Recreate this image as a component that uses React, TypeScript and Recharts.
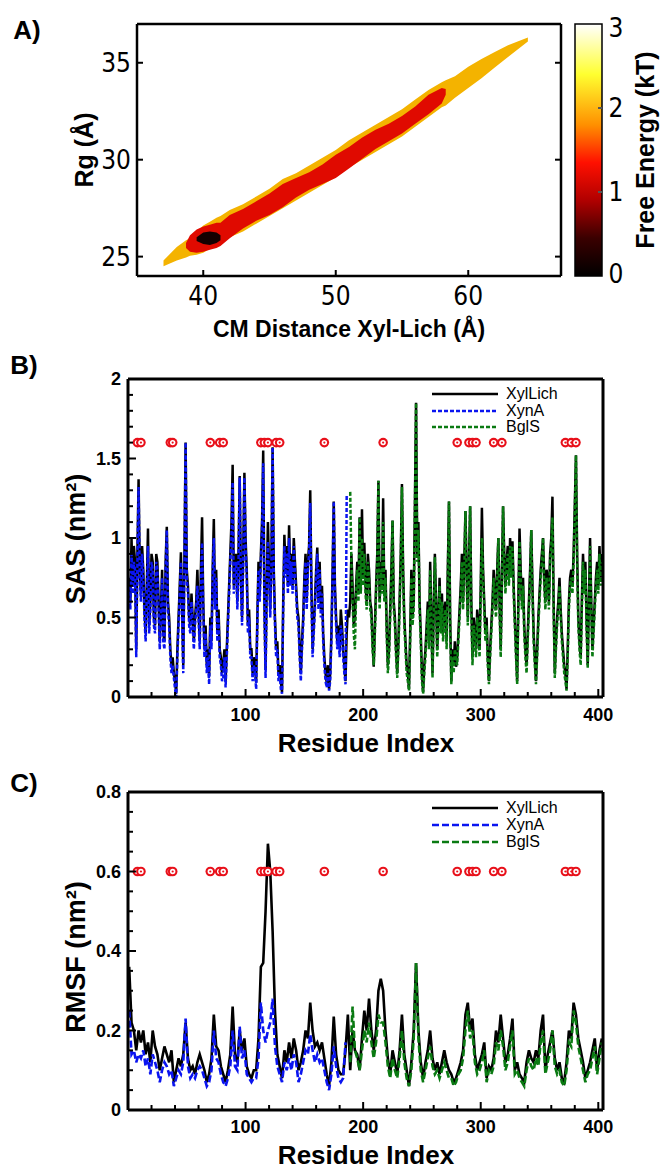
import React from 'react';
import { ComposedChart, Line, Area, Scatter, Bar, XAxis, YAxis } from 'recharts';

// ---------------- DATA ----------------
// Panel A: free-energy contour bands (x = CM distance Xyl-Lich, y = Rg range)
const fesYellowX = [37, 38, 38.7, 39, 39.5, 40, 40.5, 41, 41.3, 42, 43, 44, 45, 46, 47, 48, 49, 50, 51, 52, 53, 54, 55, 56, 57, 58, 58.3, 59, 60, 61, 62, 63, 64.5];
const fesYellowLow = [24.5, 24.8, 24.95, 25.05, 25.1, 25.2, 25.4, 25.6, 25.7, 26.0, 26.3, 26.7, 27.1, 27.5, 27.9, 28.3, 28.7, 29.1, 29.6, 30.0, 30.4, 30.8, 31.2, 31.7, 32.2, 32.7, 32.8, 33.2, 33.7, 34.2, 34.75, 35.3, 36.1];
const fesYellowHigh = [24.8, 25.5, 25.85, 25.95, 26.3, 26.6, 26.8, 27.0, 27.1, 27.4, 27.7, 28.1, 28.5, 29.0, 29.3, 29.7, 30.1, 30.5, 31.0, 31.4, 31.8, 32.2, 32.6, 33.1, 33.6, 34.0, 34.1, 34.3, 34.8, 35.2, 35.55, 35.9, 36.3];

const fesRedX = [38.7, 39, 39.5, 40, 40.5, 41, 41.3, 42, 43, 44, 45, 46, 47, 48, 49, 50, 51, 52, 53, 54, 55, 56, 57, 58, 58.3];
const fesRedLow = [25.45, 25.25, 25.2, 25.25, 25.35, 25.45, 25.55, 25.95, 26.45, 26.85, 27.15, 27.55, 28.05, 28.45, 28.75, 29.05, 29.55, 30.05, 30.55, 30.95, 31.35, 31.85, 32.35, 32.9, 33.35];
const fesRedHigh = [25.7, 26.1, 26.4, 26.55, 26.65, 26.75, 26.75, 27.15, 27.45, 27.85, 28.25, 28.75, 29.05, 29.35, 29.75, 30.25, 30.65, 31.15, 31.55, 31.85, 32.25, 32.75, 33.35, 33.7, 33.65];

const fesBlackX = [39.5, 40, 40.5, 41, 41.3];
const fesBlackLow = [25.8, 25.65, 25.6, 25.7, 25.85];
const fesBlackHigh = [26.0, 26.25, 26.3, 26.25, 26.1];

const colorbarLevels = [{ name: 'kT', level: 3 }];
const hotStops = [
  { offset: 0, color: '#000000' },
  { offset: 0.15, color: '#3a0000' },
  { offset: 0.3, color: '#b00000' },
  { offset: 0.45, color: '#ff1000' },
  { offset: 0.6, color: '#ff9000' },
  { offset: 0.8, color: '#ffff30' },
  { offset: 1, color: '#ffffff' },
];
const fesXTicks = [40, 50, 60];
const fesYTicks = [25, 30, 35];
const cbTicks = [0, 1, 2, 3];

// Panel B: SAS per residue (step 1); Panel C: RMSF every 2 residues
const SAS_START = 1;
const SAS_STEP = 1;
const SAS_XYNA_START = 1;
const SAS_BGLS_START = 189;
const RMSF_START = 1;
const RMSF_STEP = 2;
const RMSF_XYNA_START = 1;
const RMSF_BGLS_START = 189;

const sasXylLich = [
  0.75, 0.6, 1.0, 0.7, 0.95, 0.85, 0.3, 0.9, 1.37, 0.8,
  0.65, 0.95, 0.8, 0.55, 0.4, 0.7, 1.06, 0.45, 0.6, 0.9,
  0.85, 0.5, 0.45, 0.9, 0.85, 0.6, 0.35, 0.55, 0.8, 0.4,
  0.35, 0.85, 1.07, 0.6, 0.5, 0.3, 0.2, 0.25, 0.15, 0.1,
  0.02, 0.3, 0.5, 0.7, 0.91, 0.55, 0.2, 0.9, 1.6, 0.8,
  0.7, 0.5, 0.45, 0.65, 0.5, 0.35, 0.5, 0.6, 0.8, 0.55,
  0.35, 0.8, 1.13, 0.6, 0.3, 0.45, 0.2, 0.3, 0.13, 0.5,
  0.35, 0.8, 1.12, 0.6, 0.8, 0.4, 0.55, 0.3, 0.25, 0.15,
  0.2, 0.3, 0.1, 0.3, 0.5, 0.7, 0.9, 1.1, 1.46, 0.7,
  0.85, 0.9, 0.6, 0.9, 1.39, 0.75, 0.5, 0.9, 1.41, 1.0,
  0.8, 0.45, 0.55, 0.3, 0.3, 0.15, 0.25, 0.2, 0.09, 0.5,
  0.85, 0.65, 0.9, 1.1, 1.55, 0.6, 0.17, 0.7, 1.1, 0.8,
  0.55, 0.9, 1.57, 0.8, 0.5, 0.3, 0.35, 0.15, 0.2, 0.1,
  0.03, 0.6, 1.02, 0.8, 0.95, 0.7, 1.08, 0.75, 0.9, 0.7,
  1.0, 0.85, 0.7, 0.55, 0.5, 0.3, 0.15, 0.35, 0.5, 0.75,
  0.9, 0.6, 0.85, 0.95, 1.3, 0.7, 0.3, 0.45, 0.6, 0.8,
  0.94, 0.6, 0.85, 0.55, 0.7, 0.4, 0.25, 0.15, 0.09, 0.2,
  0.05, 0.15, 0.4, 0.8, 1.23, 0.7, 0.5, 0.35, 0.45, 0.3,
  0.55, 0.45, 0.3, 0.2, 0.1, 0.4, 0.55, 0.5, 0.6, 0.9,
  0.7, 0.45, 0.5, 0.7, 0.85, 0.65, 1.13, 0.7, 1.18, 0.75,
  0.97, 0.7, 0.6, 0.9, 0.8, 0.6, 0.55, 0.35, 0.19, 0.45,
  0.7, 0.9, 1.36, 0.6, 0.85, 0.7, 1.25, 0.65, 0.8, 0.45,
  0.2, 0.3, 0.55, 0.8, 1.11, 0.6, 0.5, 0.3, 0.15, 0.35,
  0.6, 0.9, 1.34, 0.8, 0.5, 0.35, 0.2, 0.15, 0.05, 0.4,
  0.8, 0.5, 0.6, 1.2, 1.85, 0.9, 1.1, 0.6, 0.4, 0.15,
  0.03, 0.2, 0.3, 0.45, 0.6, 0.35, 0.85, 0.5, 0.15, 0.55,
  0.9, 0.6, 0.3, 0.5, 0.75, 0.45, 0.65, 0.4, 0.55, 0.6,
  0.35, 0.8, 1.23, 0.5, 0.1, 0.3, 0.2, 0.35, 0.19, 0.25,
  0.4, 0.55, 0.7, 0.9, 0.6, 0.85, 1.17, 0.8, 0.5, 0.85,
  1.2, 0.6, 0.25, 0.5, 0.4, 0.3, 0.55, 0.45, 0.3, 0.7,
  1.19, 0.8, 0.6, 0.4, 0.5, 0.25, 0.1, 0.3, 0.45, 0.6,
  0.8, 0.65, 0.55, 0.8, 1.0, 0.6, 0.3, 0.75, 1.2, 0.9,
  0.7, 0.85, 0.95, 0.75, 1.0, 0.8, 0.98, 0.7, 0.5, 0.3,
  0.1, 0.6, 1.06, 0.8, 0.6, 0.75, 0.45, 0.3, 0.2, 0.4,
  0.6, 0.8, 1.05, 0.7, 0.4, 0.25, 0.1, 0.3, 0.5, 0.65,
  0.8, 0.9, 1.0, 0.75, 0.6, 0.8, 0.75, 0.6, 0.9, 1.0,
  1.26, 0.6, 0.15, 0.35, 0.5, 0.6, 0.75, 0.55, 0.4, 0.3,
  0.2, 0.15, 0.05, 0.3, 0.6, 0.75, 0.8, 0.7, 0.9, 1.2,
  1.52, 0.9, 0.5, 0.35, 0.25, 0.6, 0.9, 0.7, 0.85, 0.5,
  0.2, 0.6, 1.0, 0.6, 0.3, 0.45, 0.6, 0.75, 0.85, 0.7,
  0.95, 0.75, 0.9,
];
const sasXynA = [
  0.7, 0.55, 0.9, 0.65, 0.85, 0.8, 0.25, 0.85, 1.32, 0.75,
  0.6, 0.9, 0.75, 0.5, 0.35, 0.65, 0.95, 0.4, 0.55, 0.85,
  0.8, 0.45, 0.4, 0.85, 0.8, 0.55, 0.3, 0.5, 0.75, 0.35,
  0.3, 0.8, 1.05, 0.55, 0.45, 0.25, 0.15, 0.2, 0.12, 0.05,
  0.0, 0.25, 0.45, 0.65, 0.85, 0.5, 0.15, 0.85, 1.6, 0.75,
  0.65, 0.45, 0.4, 0.6, 0.45, 0.3, 0.45, 0.55, 0.7, 0.5,
  0.3, 0.7, 0.97, 0.55, 0.25, 0.4, 0.15, 0.25, 0.08, 0.45,
  0.3, 0.75, 1.0, 0.55, 0.75, 0.35, 0.5, 0.25, 0.2, 0.1,
  0.12, 0.25, 0.06, 0.25, 0.45, 0.65, 0.85, 1.0, 1.35, 0.65,
  0.8, 0.85, 0.55, 0.85, 1.38, 0.7, 0.45, 0.85, 1.38, 0.95,
  0.75, 0.4, 0.5, 0.25, 0.25, 0.1, 0.2, 0.15, 0.05, 0.45,
  0.8, 0.6, 0.85, 1.05, 1.47, 0.55, 0.12, 0.65, 0.98, 0.75,
  0.5, 0.85, 1.57, 0.75, 0.45, 0.25, 0.3, 0.1, 0.15, 0.05,
  0.02, 0.55, 0.95, 0.75, 0.9, 0.65, 1.0, 0.7, 0.85, 0.65,
  0.95, 0.8, 0.65, 0.5, 0.45, 0.25, 0.1, 0.3, 0.45, 0.7,
  0.85, 0.55, 0.8, 0.9, 1.22, 0.65, 0.25, 0.4, 0.55, 0.75,
  0.9, 0.55, 0.8, 0.5, 0.65, 0.35, 0.2, 0.1, 0.06, 0.15,
  0.04, 0.1, 0.35, 0.75, 1.23, 0.65, 0.45, 0.3, 0.4, 0.25,
  0.45, 0.4, 0.25, 0.15, 0.08, 1.27,
];
const sasBglS = [
  1.29, 0.85, 0.6, 0.4, 0.3, 0.65, 0.8, 0.6, 1.13, 0.65,
  1.0, 0.7, 0.9, 0.65, 0.55, 0.85, 0.75, 0.55, 0.5, 0.3,
  0.2, 0.4, 0.65, 0.85, 1.36, 0.55, 0.8, 0.65, 1.1, 0.6,
  0.75, 0.4, 0.15, 0.25, 0.5, 0.75, 1.11, 0.55, 0.45, 0.25,
  0.12, 0.3, 0.55, 0.85, 1.32, 0.75, 0.45, 0.3, 0.15, 0.1,
  0.04, 0.35, 0.75, 0.45, 0.55, 1.15, 1.85, 0.85, 1.05, 0.55,
  0.35, 0.1, 0.02, 0.15, 0.25, 0.4, 0.55, 0.3, 0.8, 0.45,
  0.12, 0.5, 0.88, 0.55, 0.25, 0.45, 0.7, 0.4, 0.6, 0.35,
  0.5, 0.55, 0.3, 0.75, 1.23, 0.45, 0.08, 0.25, 0.15, 0.3,
  0.25, 0.2, 0.35, 0.5, 0.65, 0.85, 0.55, 0.8, 1.17, 0.75,
  0.45, 0.8, 1.2, 0.55, 0.2, 0.45, 0.35, 0.25, 0.5, 0.4,
  0.25, 0.65, 1.0, 0.75, 0.55, 0.35, 0.45, 0.2, 0.08, 0.25,
  0.4, 0.55, 0.75, 0.6, 0.5, 0.75, 1.0, 0.55, 0.25, 0.7,
  1.2, 0.85, 0.65, 0.8, 0.9, 0.7, 0.95, 0.75, 0.95, 0.65,
  0.45, 0.25, 0.08, 0.55, 0.98, 0.75, 0.55, 0.7, 0.4, 0.25,
  0.15, 0.35, 0.55, 0.75, 1.05, 0.65, 0.35, 0.2, 0.08, 0.25,
  0.45, 0.6, 0.75, 0.85, 1.0, 0.7, 0.55, 0.75, 0.7, 0.55,
  0.85, 0.95, 1.13, 0.55, 0.12, 0.3, 0.45, 0.55, 0.7, 0.5,
  0.35, 0.25, 0.15, 0.1, 0.04, 0.25, 0.55, 0.7, 0.75, 0.65,
  0.85, 1.15, 1.52, 0.85, 0.45, 0.3, 0.2, 0.55, 0.85, 0.65,
  0.8, 0.45, 0.18, 0.55, 0.95, 0.55, 0.25, 0.4, 0.55, 0.7,
  0.8, 0.65, 0.9, 0.7, 0.85,
];

const rmsfXylLich = [
  0.36, 0.22, 0.2, 0.15, 0.2, 0.17, 0.2, 0.14, 0.17, 0.12,
  0.2, 0.16, 0.14, 0.1, 0.13, 0.16, 0.14, 0.12, 0.15, 0.07,
  0.1, 0.13, 0.11, 0.14, 0.22, 0.13, 0.1, 0.11, 0.09, 0.12,
  0.14, 0.12, 0.1, 0.07, 0.09, 0.13, 0.24, 0.16, 0.15, 0.11,
  0.09, 0.07, 0.1, 0.14, 0.26, 0.14, 0.12, 0.2, 0.15, 0.18,
  0.11, 0.09, 0.08, 0.1, 0.1, 0.18, 0.36, 0.37, 0.5, 0.67,
  0.6, 0.45, 0.25, 0.14, 0.11, 0.08, 0.15, 0.12, 0.17, 0.13,
  0.18, 0.15, 0.1, 0.12, 0.15, 0.2, 0.18, 0.27, 0.2, 0.16,
  0.17, 0.15, 0.17, 0.13, 0.09, 0.06, 0.12, 0.235, 0.14, 0.1,
  0.09, 0.09, 0.15, 0.24, 0.1, 0.2, 0.15, 0.14, 0.1, 0.18,
  0.25, 0.2, 0.28, 0.2, 0.15, 0.2, 0.3, 0.33, 0.3, 0.2,
  0.13, 0.09, 0.15, 0.12, 0.09, 0.15, 0.24, 0.14, 0.1, 0.06,
  0.12, 0.2, 0.37, 0.2, 0.12, 0.08, 0.12, 0.15, 0.2, 0.13,
  0.1, 0.12, 0.09, 0.12, 0.15, 0.12, 0.1, 0.09, 0.07, 0.08,
  0.1, 0.12, 0.15, 0.24, 0.27, 0.2, 0.23, 0.14, 0.1, 0.12,
  0.14, 0.17, 0.08, 0.11, 0.1, 0.13, 0.2, 0.17, 0.24, 0.18,
  0.12, 0.14, 0.18, 0.23, 0.1, 0.12, 0.09, 0.08, 0.07, 0.12,
  0.15, 0.13, 0.12, 0.15, 0.13, 0.2, 0.24, 0.1, 0.14, 0.17,
  0.2, 0.13, 0.1, 0.12, 0.08, 0.07, 0.12, 0.2, 0.18, 0.27,
  0.24, 0.18, 0.15, 0.12, 0.08, 0.1, 0.12, 0.15, 0.18, 0.1,
  0.15, 0.18,
];
const rmsfXynA = [
  0.25, 0.14, 0.15, 0.12, 0.14, 0.13, 0.15, 0.11, 0.13, 0.09,
  0.14, 0.12, 0.1, 0.07, 0.1, 0.12, 0.11, 0.09, 0.1, 0.06,
  0.08, 0.1, 0.09, 0.12, 0.23, 0.11, 0.08, 0.09, 0.08, 0.1,
  0.11, 0.1, 0.08, 0.06, 0.07, 0.1, 0.2, 0.13, 0.12, 0.09,
  0.07, 0.06, 0.08, 0.11, 0.2, 0.11, 0.1, 0.21, 0.13, 0.15,
  0.09, 0.08, 0.07, 0.08, 0.08, 0.13, 0.27, 0.2, 0.17, 0.2,
  0.22, 0.28, 0.16, 0.11, 0.09, 0.07, 0.12, 0.1, 0.13, 0.1,
  0.14, 0.12, 0.07, 0.09, 0.12, 0.15, 0.14, 0.19, 0.15, 0.12,
  0.14, 0.12, 0.13, 0.1, 0.07, 0.05, 0.09, 0.16, 0.11, 0.08,
  0.07, 0.08, 0.17,
];
const rmsfBglS = [
  0.12, 0.26, 0.15, 0.13, 0.1, 0.15, 0.2, 0.17, 0.22, 0.17,
  0.13, 0.17, 0.24, 0.22, 0.22, 0.17, 0.11, 0.08, 0.13, 0.1,
  0.08, 0.13, 0.2, 0.12, 0.08, 0.06, 0.1, 0.18, 0.37, 0.18,
  0.1, 0.07, 0.1, 0.13, 0.16, 0.11, 0.09, 0.1, 0.08, 0.1,
  0.12, 0.1, 0.08, 0.08, 0.06, 0.07, 0.09, 0.1, 0.13, 0.2,
  0.25, 0.18, 0.2, 0.12, 0.09, 0.1, 0.12, 0.15, 0.07, 0.1,
  0.09, 0.11, 0.17, 0.15, 0.2, 0.16, 0.1, 0.12, 0.16, 0.2,
  0.09, 0.1, 0.08, 0.07, 0.06, 0.1, 0.13, 0.11, 0.1, 0.13,
  0.11, 0.17, 0.2, 0.09, 0.12, 0.15, 0.2, 0.11, 0.09, 0.1,
  0.07, 0.06, 0.1, 0.17, 0.16, 0.25, 0.22, 0.16, 0.13, 0.1,
  0.07, 0.09, 0.1, 0.13, 0.16, 0.09, 0.13, 0.17,
];

const markedResidues = [8, 11, 36, 38, 70, 78, 81, 113, 116, 119, 126, 129, 167, 217, 280, 290, 293, 296, 311, 318, 372, 377, 381];
const SAS_MARK_LEVEL = 1.6;
const RMSF_MARK_LEVEL = 0.6;

const resXTicks = [20, 40, 60, 80, 100, 120, 140, 160, 180, 200, 220, 240, 260, 280, 300, 320, 340, 360, 380, 400];
const sasYTicks = [0, 0.1, 0.2, 0.3, 0.4, 0.5, 0.6, 0.7, 0.8, 0.9, 1, 1.1, 1.2, 1.3, 1.4, 1.5, 1.6, 1.7, 1.8, 1.9, 2];
const rmsfYTicks = [0, 0.05, 0.1, 0.15, 0.2, 0.25, 0.3, 0.35, 0.4, 0.45, 0.5, 0.55, 0.6, 0.65, 0.7, 0.75, 0.8];

const seriesNames = ['XylLich', 'XynA', 'BglS'];
const seriesColors = ['#000000', '#0a14f0', '#0a7a12'];

// ---------------- HELPERS ----------------
const SANS = "'Liberation Sans', Arial, Helvetica, sans-serif";
const NARROW = "'Liberation Sans Narrow', 'DejaVu Sans Condensed', 'Liberation Sans', Arial, sans-serif";

function buildResidueTable(start: number, step: number, xynStart: number, bglStart: number, xyl: number[], xyn: number[], bgl: number[]) {
  return xyl.map((v, i) => {
    const res = start + step * i;
    const j = (res - xynStart) / step;
    const k = (res - bglStart) / step;
    return {
      res,
      xyl: v,
      xyn: j >= 0 && j < xyn.length ? xyn[j] : null,
      bgl: k >= 0 && k < bgl.length ? bgl[k] : null,
    };
  });
}

function bandTable(xs: number[], lo: number[], hi: number[]) {
  return xs.map((x, i) => ({ x, range: [lo[i], hi[i]] }));
}

type Side = 'bottom' | 'top' | 'left' | 'right';
interface TickOpts {
  side: Side;
  isMajor: (v: number) => boolean;
  majorLen: number;
  minorLen: number;
  showLabel: boolean;
  gap: number;
  font: string;
  size: number;
  weight: number | string;
  color?: string;
}
const makeTick = (o: TickOpts) => (p: any) => {
  const { x, y, payload } = p;
  const v = Number(payload.value);
  const major = o.isMajor(v);
  const len = major ? o.majorLen : o.minorLen;
  const stroke = o.color || '#000';
  const label = String(Math.round(v * 1000) / 1000);
  const ts = { fontFamily: o.font, fontSize: o.size, fontWeight: o.weight, fill: '#000' } as any;
  let line: any = null;
  let text: any = null;
  if (o.side === 'bottom') {
    line = <line x1={x} y1={y} x2={x} y2={y - len} stroke={stroke} strokeWidth={2} />;
    if (o.showLabel && major) text = <text x={x} y={y + o.gap} textAnchor="middle" dominantBaseline="central" style={ts}>{label}</text>;
  } else if (o.side === 'top') {
    line = <line x1={x} y1={y} x2={x} y2={y + len} stroke={stroke} strokeWidth={2} />;
  } else if (o.side === 'left') {
    line = <line x1={x} y1={y} x2={x + len} y2={y} stroke={stroke} strokeWidth={2} />;
    if (o.showLabel && major) text = <text x={x - o.gap} y={y} textAnchor="end" dominantBaseline="central" style={ts}>{label}</text>;
  } else {
    line = <line x1={x} y1={y} x2={x - len} y2={y} stroke={stroke} strokeWidth={2} />;
    if (o.showLabel && major) text = <text x={x + o.gap} y={y} textAnchor="start" dominantBaseline="central" style={ts}>{label}</text>;
  }
  return <g>{line}{text}</g>;
};

const Txt = ({ x, y, rot = 0, size, weight = 'bold', family = SANS, children }: any) => (
  <div
    style={{
      position: 'absolute', left: x, top: y, transform: `translate(-50%, -50%) rotate(${rot}deg)`,
      whiteSpace: 'nowrap', fontFamily: family, fontSize: size, fontWeight: weight, lineHeight: 1, color: '#000',
    }}
  >
    {children}
  </div>
);

const MarkerShape = (p: any) => {
  const { cx, cy } = p;
  if (cx == null || cy == null) return null;
  return (
    <g>
      <circle cx={cx} cy={cy} r={4.8} fill="#e8101a" />
      <circle cx={cx} cy={cy} r={2.7} fill="#ffffff" />
      <circle cx={cx} cy={cy} r={1.1} fill="#e8101a" />
    </g>
  );
};

const LegendBox = ({ x, top, rowH, dashes }: any) => (
  <div style={{ position: 'absolute', left: x, top }}>
    {seriesNames.map((n, i) => (
      <div key={n} style={{ display: 'flex', alignItems: 'center', height: rowH }}>
        <svg width={66} height={6} style={{ display: 'block' }}>
          <line x1={0} y1={3} x2={66} y2={3} stroke={seriesColors[i]} strokeWidth={2.5} strokeDasharray={dashes[i]} />
        </svg>
        <span style={{ marginLeft: 8, fontFamily: SANS, fontSize: 16, lineHeight: 1, color: '#000' }}>{n}</span>
      </div>
    ))}
  </div>
);

// ---------------- PANEL A ----------------
// plot area: x 137..561, y 24..276
const A_MARGIN = { top: 24, right: 101, bottom: 54, left: 137 };
const A_MARGIN_AXES = { top: 23, right: 100, bottom: 53, left: 136 };
const A_W = 662;
const A_H = 330;

const BandLayer = ({ data, fill }: any) => (
  <div style={{ position: 'absolute', left: 0, top: 0 }}>
    <ComposedChart width={A_W} height={A_H} data={data} margin={A_MARGIN}>
      <XAxis type="number" dataKey="x" domain={[35, 67]} allowDataOverflow hide />
      <YAxis type="number" domain={[24, 37]} allowDataOverflow hide />
      <Area type="linear" dataKey="range" stroke="none" fill={fill} fillOpacity={1} isAnimationActive={false} dot={false} activeDot={false} />
    </ComposedChart>
  </div>
);

const PanelA = () => {
  const tickStyle = { font: NARROW, size: 26, weight: 'normal' };
  const isMaj = () => true;
  return (
    <div style={{ position: 'absolute', left: 0, top: 0, width: 662, height: 345 }}>
      <BandLayer data={bandTable(fesYellowX, fesYellowLow, fesYellowHigh)} fill="#f4b300" />
      <BandLayer data={bandTable(fesRedX, fesRedLow, fesRedHigh)} fill="#e00a00" />
      <BandLayer data={bandTable(fesBlackX, fesBlackLow, fesBlackHigh)} fill="#150000" />
      <div style={{ position: 'absolute', left: 0, top: 0 }}>
        <ComposedChart width={A_W} height={A_H} data={bandTable(fesYellowX, fesYellowLow, fesYellowHigh)} margin={A_MARGIN_AXES}>
          <XAxis type="number" dataKey="x" domain={[35, 67]} allowDataOverflow ticks={fesXTicks} interval={0} height={1}
            tickSize={0} tickMargin={0} axisLine={{ stroke: '#000', strokeWidth: 2.5 }}
            tick={makeTick({ side: 'bottom', isMajor: isMaj, majorLen: 6, minorLen: 6, showLabel: true, gap: 20, ...tickStyle })} />
          <XAxis xAxisId="top" orientation="top" type="number" domain={[35, 67]} allowDataOverflow ticks={fesXTicks} interval={0} height={1}
            tickSize={0} tickMargin={0} axisLine={{ stroke: '#000', strokeWidth: 2.5 }}
            tick={makeTick({ side: 'top', isMajor: isMaj, majorLen: 6, minorLen: 6, showLabel: false, gap: 0, ...tickStyle })} />
          <YAxis type="number" domain={[24, 37]} allowDataOverflow ticks={fesYTicks} interval={0} width={1}
            tickSize={0} tickMargin={0} axisLine={{ stroke: '#000', strokeWidth: 2.5 }}
            tick={makeTick({ side: 'left', isMajor: isMaj, majorLen: 6, minorLen: 6, showLabel: true, gap: 6, ...tickStyle })} />
          <YAxis yAxisId="right" orientation="right" type="number" domain={[24, 37]} allowDataOverflow ticks={fesYTicks} interval={0} width={1}
            tickSize={0} tickMargin={0} axisLine={{ stroke: '#000', strokeWidth: 2.5 }}
            tick={makeTick({ side: 'right', isMajor: isMaj, majorLen: 6, minorLen: 6, showLabel: false, gap: 0, ...tickStyle })} />
          <Area type="linear" dataKey="range" stroke="none" fill="none" isAnimationActive={false} dot={false} activeDot={false} />
        </ComposedChart>
      </div>
      {/* colorbar */}
      <div style={{ position: 'absolute', left: 560, top: 0 }}>
        <ComposedChart width={102} height={300} data={colorbarLevels} margin={{ top: 24, right: 59, bottom: 24, left: 15 }} barCategoryGap={0}>
          <defs>
            <linearGradient id="hotGrad" x1="0" y1="1" x2="0" y2="0">
              {hotStops.map((s) => <stop key={s.offset} offset={s.offset} stopColor={s.color} />)}
            </linearGradient>
          </defs>
          <XAxis type="category" dataKey="name" hide />
          <YAxis orientation="right" type="number" domain={[0, 3]} ticks={cbTicks} interval={0} width={1}
            tickSize={0} tickMargin={0} axisLine={false}
            tick={makeTick({ side: 'right', isMajor: (v) => v > 0 && v < 3, majorLen: 4, minorLen: 0, showLabel: false, gap: 6, font: NARROW, size: 26, weight: 'normal', color: '#555' })} />
          <Bar dataKey="level" fill="url(#hotGrad)" stroke="#000" strokeWidth={1.5} isAnimationActive={false} />
        </ComposedChart>
      </div>
      {cbTicks.map((t) => (
        <Txt key={t} x={616} y={276 - t * 84 + (t === 3 ? 4 : t === 0 ? -2 : 0)} size={26} weight="normal" family={NARROW}>{t}</Txt>
      ))}
      <Txt x={27} y={30} size={26}>A)</Txt>
      <Txt x={349} y={329} size={23}>CM Distance Xyl-Lich (Å)</Txt>
      <Txt x={84} y={150} rot={-90} size={25}>Rg (Å)</Txt>
      <Txt x={645} y={150} rot={-90} size={25}>Free Energy (kT)</Txt>
    </div>
  );
};

// ---------------- PANELS B & C ----------------
const ResiduePanel = ({ top, height, margin, data, yDomain, yTicks, yMajor, markLevel, dashes, yGap, strokeW }: any) => {
  const tickStyle = { font: SANS, size: 18, weight: 'bold' };
  const marks = markedResidues.map((r) => ({ res: r, y: markLevel }));
  return (
    <div style={{ position: 'absolute', left: 0, top }}>
      <ComposedChart width={662} height={height} data={data} margin={margin}>
        <XAxis type="number" dataKey="res" domain={[0, 404]} allowDataOverflow ticks={resXTicks} interval={0} height={1}
          tickSize={0} tickMargin={0} axisLine={{ stroke: '#000', strokeWidth: 3 }}
          tick={makeTick({ side: 'bottom', isMajor: (v) => v % 100 === 0, majorLen: 8, minorLen: 5, showLabel: true, gap: yGap, ...tickStyle })} />
        <XAxis xAxisId="top" orientation="top" type="number" domain={[0, 404]} allowDataOverflow height={1}
          tick={false} tickLine={false} axisLine={{ stroke: '#000', strokeWidth: 3 }} />
        <YAxis type="number" domain={yDomain} allowDataOverflow ticks={yTicks} interval={0} width={1}
          tickSize={0} tickMargin={0} axisLine={{ stroke: '#000', strokeWidth: 3 }}
          tick={makeTick({ side: 'left', isMajor: yMajor, majorLen: 8, minorLen: 5, showLabel: true, gap: 7, ...tickStyle })} />
        <YAxis yAxisId="right" orientation="right" type="number" domain={yDomain} allowDataOverflow width={1}
          tick={false} tickLine={false} axisLine={{ stroke: '#000', strokeWidth: 3 }} />
        <Line type="linear" dataKey="xyl" stroke={seriesColors[0]} strokeWidth={strokeW} dot={false} activeDot={false} isAnimationActive={false} />
        <Line type="linear" dataKey="xyn" stroke={seriesColors[1]} strokeWidth={strokeW} strokeDasharray={dashes[1]} dot={false} activeDot={false} isAnimationActive={false} />
        <Line type="linear" dataKey="bgl" stroke={seriesColors[2]} strokeWidth={strokeW} strokeDasharray={dashes[2]} dot={false} activeDot={false} isAnimationActive={false} />
        <Scatter data={marks} dataKey="y" shape={MarkerShape} isAnimationActive={false} />
      </ComposedChart>
    </div>
  );
};

const sasTable = buildResidueTable(SAS_START, SAS_STEP, SAS_XYNA_START, SAS_BGLS_START, sasXylLich, sasXynA, sasBglS);
const rmsfTable = buildResidueTable(RMSF_START, RMSF_STEP, RMSF_XYNA_START, RMSF_BGLS_START, rmsfXylLich, rmsfXynA, rmsfBglS);

export default function App() {
  const dashB = ['', '4 2', '4 2'];
  const dashC = ['', '7 3', '7 3'];
  return (
    <div style={{ position: 'absolute', left: 0, top: 0, width: 662, height: 1169, background: '#fff', overflow: 'hidden' }}>
      <PanelA />

      {/* plot area B: x 128..603, y 379..697 */}
      <ResiduePanel top={330} height={420} margin={{ top: 48, right: 58, bottom: 52, left: 127 }} data={sasTable}
        yDomain={[0, 2]} yTicks={sasYTicks} yMajor={(v: number) => Math.abs(v * 2 - Math.round(v * 2)) < 1e-6}
        markLevel={SAS_MARK_LEVEL} dashes={dashB} yGap={18} strokeW={2.5} />
      <LegendBox x={432} top={386} rowH={16.5} dashes={dashB} />
      <Txt x={24} y={365} size={26}>B)</Txt>
      <Txt x={366} y={743} size={26}>Residue Index</Txt>
      <Txt x={76} y={539} rot={-90} size={27}>SAS (nm²)</Txt>

      {/* plot area C: x 128..603, y 792..1110 */}
      <ResiduePanel top={750} height={419} margin={{ top: 41, right: 58, bottom: 58, left: 127 }} data={rmsfTable}
        yDomain={[0, 0.8]} yTicks={rmsfYTicks} yMajor={(v: number) => Math.abs(v * 5 - Math.round(v * 5)) < 1e-6}
        markLevel={RMSF_MARK_LEVEL} dashes={dashC} yGap={17} strokeW={2.6} />
      <LegendBox x={432} top={799} rowH={17} dashes={dashC} />
      <Txt x={24} y={783} size={26}>C)</Txt>
      <Txt x={366} y={1155} size={26}>Residue Index</Txt>
      <Txt x={76} y={957} rot={-90} size={27}>RMSF (nm²)</Txt>
    </div>
  );
}
